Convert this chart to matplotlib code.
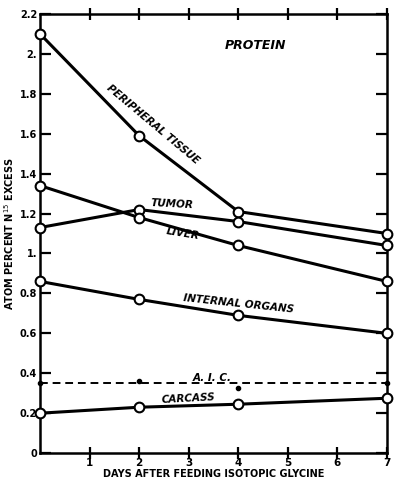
import matplotlib.pyplot as plt

days = [0, 2, 4, 7]
peripheral = [2.10, 1.59, 1.21, 1.10]
tumor = [1.13, 1.22, 1.16, 1.04]
liver = [1.34, 1.18, 1.04, 0.86]
internal = [0.86, 0.77, 0.69, 0.60]
aic = [0.35, 0.36, 0.325, 0.35]
aic_level = 0.35
carcass = [0.20, 0.23, 0.245, 0.275]

x_ticks = [1, 2, 3, 4, 5, 6, 7]
y_ticks = [0, 0.2, 0.4, 0.6, 0.8, 1.0, 1.2, 1.4, 1.6, 1.8, 2.0, 2.2]
y_labels = ['0', '0.2', '0.4', '0.6', '0.8', '1.', '1.2', '1.4', '1.6', '1.8', '2.', '2.2']

lettering = dict(fontsize=7.5, fontweight='bold', style='italic')

fig = plt.figure(figsize=(3.96, 4.79), dpi=100)
ax = fig.add_axes([0.101, 0.054, 0.876, 0.917])

for series in [peripheral, tumor, liver, internal, carcass]:
    ax.plot(days, series, color='black', lw=2.2, marker='o', ms=7,
            mfc='white', mec='black', mew=1.5, clip_on=False, zorder=3)

ax.plot([0, 7], [aic_level, aic_level], color='black', lw=1.4,
        ls=(0, (4, 2.5)), zorder=2)
ax.plot(days, aic, ls='none', marker='o', ms=3, color='black', clip_on=False)

ax.set_xlim(0, 7)
ax.set_ylim(0, 2.2)
ax.set_xticks(x_ticks)
ax.set_xticklabels([str(t) for t in x_ticks], fontsize=7.5, fontweight='bold')
ax.set_yticks(y_ticks)
ax.set_yticklabels(y_labels, fontsize=7, fontweight='bold')
ax.tick_params(axis='x', direction='inout', length=9, width=1.6, pad=-1,
               top=True)
ax.tick_params(axis='y', direction='in', length=8, width=1.6, pad=2,
               right=True)
for s in ax.spines.values():
    s.set_linewidth(1.8)

ax.set_xlabel('DAYS AFTER FEEDING ISOTOPIC GLYCINE', fontsize=7,
              fontweight='bold', va='center')
ax.xaxis.set_label_coords(0.5, -0.047)
ax.set_ylabel('ATOM PERCENT N$^{15}$ EXCESS', fontsize=7, fontweight='bold',
              va='center')
ax.yaxis.set_label_coords(-0.088, 0.5)

ax.text(4.34, 2.04, 'PROTEIN', ha='center', va='center', fontsize=9,
        fontweight='bold', style='italic')
ax.text(2.27, 1.645, 'PERIPHERAL TISSUE', ha='center', va='center',
        rotation=-40, **lettering)
ax.text(2.67, 1.245, 'TUMOR', ha='center', va='center', rotation=-3, **lettering)
ax.text(2.89, 1.10, 'LIVER', ha='center', va='center', rotation=-9, **lettering)
ax.text(4.0, 0.75, 'INTERNAL ORGANS', ha='center', va='center',
        rotation=-6, **lettering)
ax.text(3.47, 0.375, 'A. I. C.', ha='center', va='center', **lettering)
ax.text(2.99, 0.275, 'CARCASS', ha='center', va='center', rotation=3, **lettering)

fig.savefig('out.png', dpi=100)
